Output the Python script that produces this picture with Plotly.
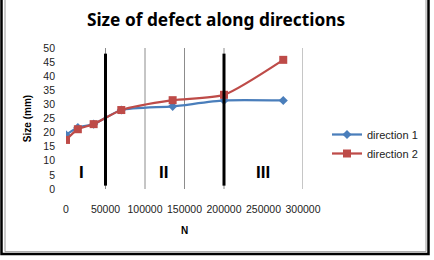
import plotly.graph_objects as go

# ---- data ----
N = [0, 15000, 35000, 70000, 135000, 200000, 275000]
direction_1 = [19.2, 21.8, 23.0, 28.0, 29.3, 31.4, 31.4]
direction_2 = [17.4, 21.2, 23.0, 28.0, 31.5, 33.4, 45.8]
region_bounds = [50000, 200000]
region_labels = ["I", "II", "III"]
region_label_x = [20000, 123000, 249000]
region_label_y = [5.7, 5.7, 5.7]
grid_x = [50000, 100000, 150000, 200000, 300000]
x_ticks = [0, 50000, 100000, 150000, 200000, 250000, 300000]
y_ticks = list(range(0, 51, 5))

W, H = 434, 260
ML, MR, MT, MB = 66, 131, 48, 71
PW, PH = W - ML - MR, H - MT - MB

def px(x):
    return (x - ML) / PW

def py(y):
    return (H - MB - y) / PH

BLUE = "#4A7EBB"
RED = "#BE4B48"
FONT = "Liberation Sans"

fig = go.Figure()
fig.add_trace(go.Scatter(
    x=N, y=direction_1, name="direction 1", mode="lines+markers",
    line=dict(color=BLUE, width=2.25, shape="spline", smoothing=0.6),
    marker=dict(symbol="diamond", size=7, color=BLUE)))
fig.add_trace(go.Scatter(
    x=N, y=direction_2, name="direction 2", mode="lines+markers",
    line=dict(color=RED, width=2.25, shape="spline", smoothing=0.6),
    marker=dict(symbol="square", size=8, color=RED)))

shapes = []
for gx in grid_x:
    shapes.append(dict(type="line", xref="x", yref="y", x0=gx, x1=gx, y0=0, y1=50,
                       line=dict(color="#8C8C8C", width=1), layer="below"))
for bx in region_bounds:
    shapes.append(dict(type="line", xref="x", yref="y", x0=bx, x1=bx, y0=1.2, y1=48,
                       line=dict(color="black", width=3), layer="above"))
# outer double frame
shapes.append(dict(type="rect", xref="paper", yref="paper",
                   x0=px(1.5), x1=px(428.5), y0=py(254), y1=py(-5),
                   line=dict(color="black", width=2.5)))
shapes.append(dict(type="rect", xref="paper", yref="paper",
                   x0=px(5), x1=px(426), y0=py(251.7), y1=py(-5),
                   line=dict(color="#9A9A9A", width=1)))

annotations = []
for lab, lx, ly in zip(region_labels, region_label_x, region_label_y):
    annotations.append(dict(x=lx, y=ly, xref="x", yref="y", text="<b>" + lab + "</b>", showarrow=False,
                            font=dict(family=FONT, size=17, color="black")))

fig.update_layout(
    width=W, height=H,
    margin=dict(l=ML, r=MR, t=MT, b=MB, autoexpand=False),
    paper_bgcolor="white", plot_bgcolor="white",
    title=dict(text="<b>Size of defect along directions</b>", x=216 / W, xanchor="center",
               y=1 - 20 / H, yanchor="middle",
               font=dict(family="Noto Sans", size=17.3, color="black")),
    xaxis=dict(range=[0, 300000], tickvals=x_ticks, ticktext=[str(v) for v in x_ticks],
               showgrid=False, zeroline=False, showline=False, ticks="",
               tickfont=dict(family=FONT, size=10.5, color="#222"),
               ticklabelstandoff=12,
               title=dict(text="<b>N</b>", font=dict(family=FONT, size=10, color="black"), standoff=13)),
    yaxis=dict(range=[0, 50], tickvals=y_ticks, showgrid=False, zeroline=False, showline=False,
               ticks="", tickfont=dict(family=FONT, size=10.5, color="#222"),
               ticklabelstandoff=10,
               title=dict(text="<b>Size (mm)</b>", font=dict(family=FONT, size=10, color="black"), standoff=9)),
    legend=dict(x=px(327), y=py(120), xanchor="left", yanchor="top",
                font=dict(family=FONT, size=11, color="#222"),
                bgcolor="rgba(0,0,0,0)", itemwidth=30, tracegroupgap=0),
    shapes=shapes, annotations=annotations,
)

fig.write_html("out.html")
